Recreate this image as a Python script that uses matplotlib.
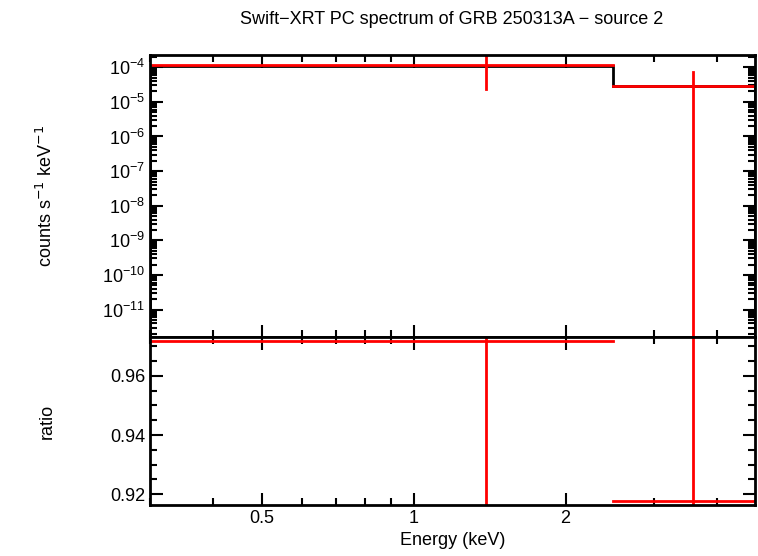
import matplotlib
matplotlib.use("Agg")
import matplotlib.pyplot as plt
from matplotlib.ticker import LogLocator, FixedLocator, NullFormatter, FixedFormatter
import numpy as np

plt.rcParams["font.family"] = "Liberation Sans"

bin_lo = [0.3, 2.48]
bin_hi = [2.48, 4.75]
bin_center = [1.39, 3.58]
model = [1.12e-4, 2.95e-5]
data = [1.15e-4, 2.95e-5]
data_lo = [2.4e-5, 1e-13]
data_hi = [3e-4, 7.1e-5]
ratio = [0.9719, 0.9178]
ratio_lo = [0.90, 0.90]
ratio_hi = [0.99, 0.99]

fig = plt.figure(figsize=(7.58, 5.56), dpi=100)
ax1 = fig.add_axes([150/758, 1-337/556, 605/758, 282/556])
ax2 = fig.add_axes([150/758, 1-505/556, 605/758, 168/556], sharex=ax1)

xedges = bin_lo + [bin_hi[-1]]
ax1.stairs(model, xedges, color="black", lw=2)
for i in range(len(data)):
    ax1.plot([bin_lo[i], bin_hi[i]], [data[i]]*2, color="red", lw=2)
    ax1.plot([bin_center[i]]*2, [data_lo[i], data_hi[i]], color="red", lw=2)
    ax2.plot([bin_lo[i], bin_hi[i]], [ratio[i]]*2, color="red", lw=2)
    ax2.plot([bin_center[i]]*2, [ratio_lo[i], ratio_hi[i]], color="red", lw=2)

ax1.set_xscale("log")
ax1.set_yscale("log")
ax1.set_xlim(0.3, 4.75)
ax1.set_ylim(10**-11.79, 10**-3.647)
ax2.set_ylim(0.9163, 0.9732)

ax1.yaxis.set_major_locator(LogLocator(base=10, numticks=20))
ax1.yaxis.set_minor_locator(LogLocator(base=10, subs=np.arange(2, 10), numticks=20))
ax1.yaxis.set_minor_formatter(NullFormatter())
ax2.xaxis.set_major_locator(FixedLocator([0.5, 1, 2]))
ax2.xaxis.set_major_formatter(FixedFormatter(["0.5", "1", "2"]))
ax2.xaxis.set_minor_locator(FixedLocator([0.3, 0.4, 0.6, 0.7, 0.8, 0.9, 3, 4]))
ax2.xaxis.set_minor_formatter(NullFormatter())
ax2.yaxis.set_major_locator(FixedLocator([0.92, 0.94, 0.96]))
ax2.yaxis.set_minor_locator(FixedLocator(np.arange(0.925, 0.974, 0.005)))
plt.setp(ax1.get_xticklabels(), visible=False)

for ax in (ax1, ax2):
    ax.tick_params(which="both", direction="in", top=True, right=True, labelsize=13, width=1.5)
    ax.tick_params(which="major", length=9)
    ax.tick_params(which="minor", length=5)
    for s in ax.spines.values():
        s.set_linewidth(2)

ax1.set_ylabel("counts s$^{-1}$ keV$^{-1}$", fontsize=13)
ax2.set_ylabel("ratio", fontsize=13)
ax2.set_xlabel("Energy (keV)", fontsize=13)
ax1.yaxis.set_label_coords(-0.155, 0.5)
ax2.yaxis.set_label_coords(-0.155, 0.5)
fig.text(452/758, 1-19/556, "Swift\u2212XRT PC spectrum of GRB 250313A \u2212 source 2",
         ha="center", va="center", fontsize=13)
fig.savefig("out.png", dpi=100)
